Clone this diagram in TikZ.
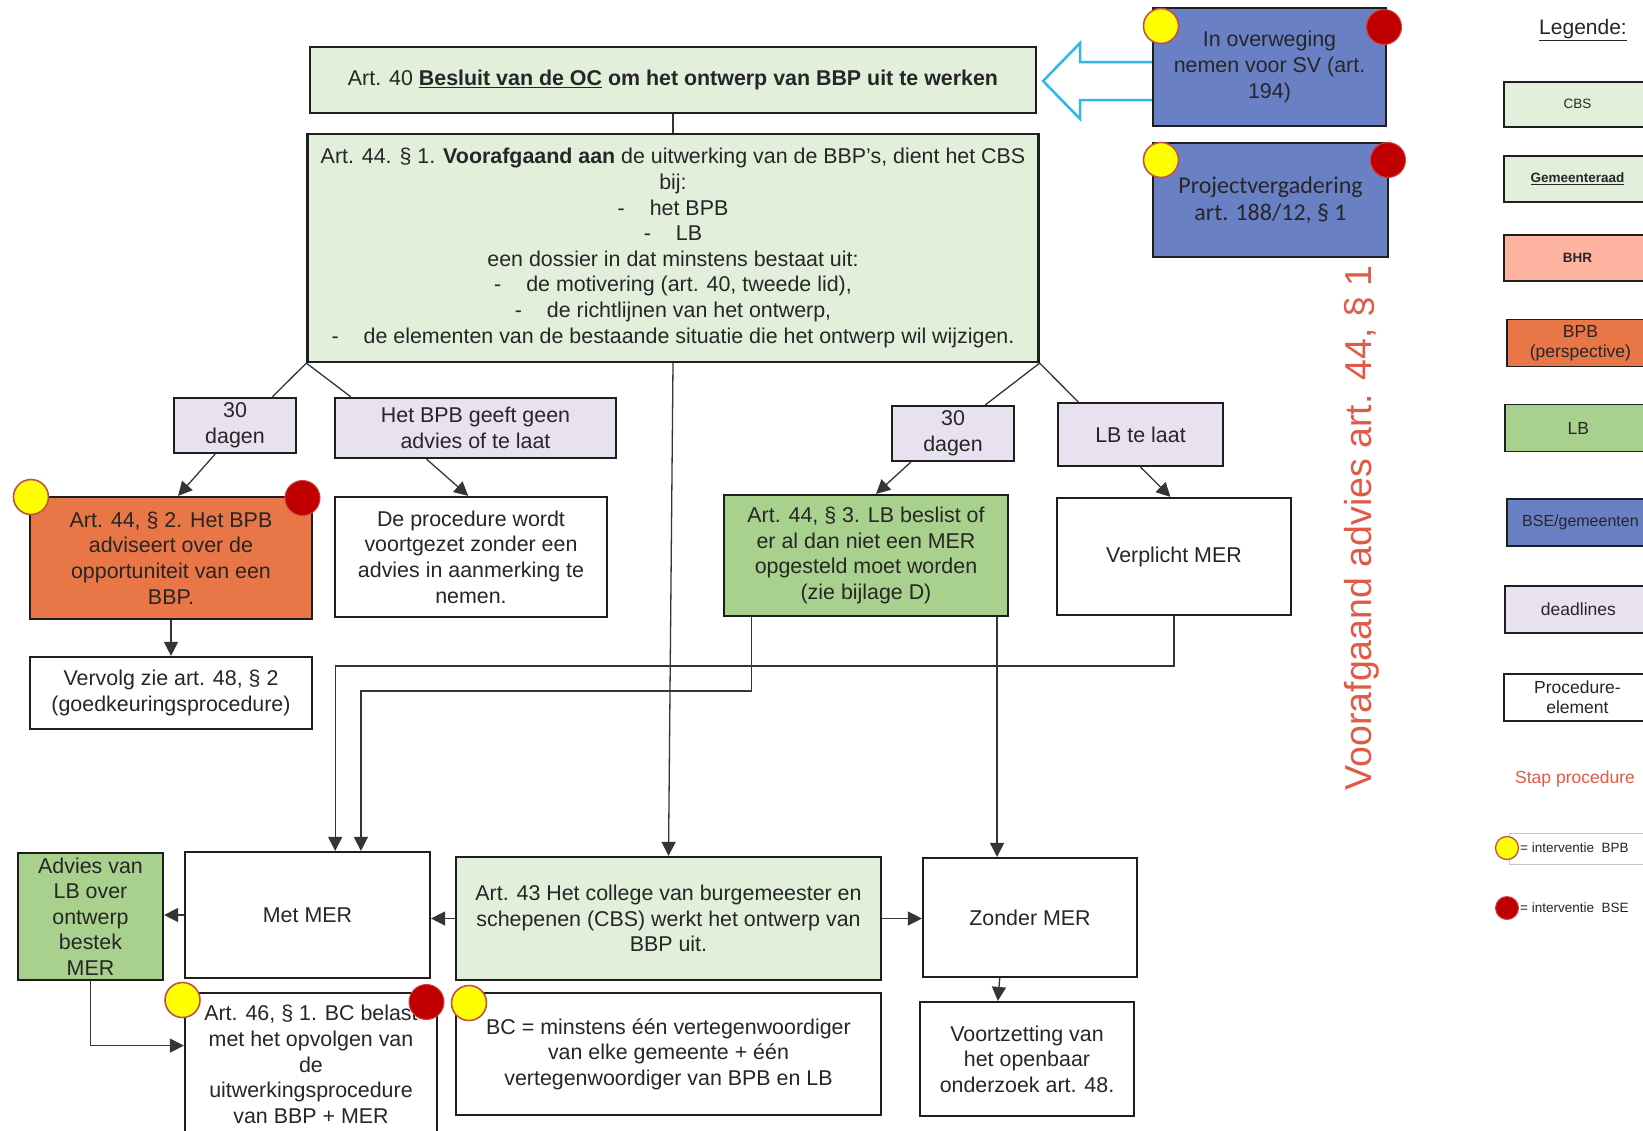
\documentclass[tikz,border=0pt]{standalone}
\usepackage{fontspec}
\setmainfont{Liberation Sans}
\newfontfamily\calib{Carlito}
\usetikzlibrary{arrows.meta,calc}

\definecolor{cbsgreen}{HTML}{E2EFDA}
\definecolor{lbgreen}{HTML}{A9D18E}
\definecolor{bpborange}{HTML}{E97647}
\definecolor{bhrpink}{HTML}{FFB3A1}
\definecolor{bseblue}{HTML}{6A80C4}
\definecolor{deadline}{HTML}{E8E1EF}
\definecolor{steptext}{HTML}{E05A47}
\definecolor{inktext}{HTML}{262626}
\definecolor{edge}{HTML}{1E1E1E}
\definecolor{hollowblue}{HTML}{2DB8EA}
\definecolor{dotyellow}{HTML}{FFFF00}
\definecolor{dotred}{HTML}{C00000}
\definecolor{dotrim}{HTML}{C0504D}

\begin{document}
\begin{tikzpicture}[x=1pt,y=-1pt,
  box/.style={draw=edge, line width=2.2pt, inner sep=0pt, align=center, text=inktext,
    font=\fontsize{21.4}{25.6}\selectfont},
  conn/.style={draw=edge!90, line width=1.3pt},
  arr/.style={conn, -{Triangle[length=14pt,width=14pt]}},
  bpbdot/.style={circle, draw=dotrim, line width=1.6pt, fill=dotyellow, minimum size=35pt, inner sep=0pt},
  bsedot/.style={circle, draw=dotred!75!white, line width=1pt, fill=dotred, minimum size=35pt, inner sep=0pt},
  legbox/.style={draw=edge, line width=1.8pt, inner sep=0pt, align=center, text=inktext,
    minimum width=147pt, anchor=west},
  fsmall/.style={font=\fontsize{13.5}{16}\selectfont},
  fleg/.style={font=\fontsize{17.5}{20}\selectfont},
]
\useasboundingbox (0,0) rectangle (1643,1130);
\clip (0,0) rectangle (1643,1130);
\fill[white] (0,0) rectangle (1643,1130);

% ---------- top of the procedure ----------
\node[box, fill=cbsgreen, minimum width=726pt, minimum height=66pt] (art40) at (673,80)
  {Art. 40 \textbf{\underline{Besluit van de OC}} \textbf{om het ontwerp van BBP uit te werken}};

% hollow block arrow pointing from the SV box to art. 40
\draw[hollowblue, line width=2.5pt, fill=white, line join=miter]
  ($(art40.east)+(6,1)$) -- ++(37,-38) -- ++(0,19) -- ++(83,0) -- ++(0,38)
  -- ++(-83,0) -- ++(0,19) -- cycle;

\node[box, fill=bseblue, minimum width=233pt, minimum height=118pt] (sv) at (1269.5,67)
  {In overweging\\nemen voor SV (art.\\194)};
\node[box, fill=bseblue, minimum width=235pt, minimum height=114pt,
  font=\calib\fontsize{24}{27.3}\selectfont] (proj) at (1270.5,200)
  {Projectvergadering\\art. 188/12, § 1};

\node[box, fill=cbsgreen, minimum width=731pt, minimum height=228pt] (art44a) at (673,248)
  {Art. 44. § 1. \textbf{Voorafgaand aan} de uitwerking van de BBP's, dient het CBS\\
   bij:\\
   -\hspace{25pt}het BPB\\
   -\hspace{25pt}LB\\
   een dossier in dat minstens bestaat uit:\\
   -\hspace{25pt}de motivering (art. 40, tweede lid),\\
   -\hspace{25pt}de richtlijnen van het ontwerp,\\
   -\hspace{25pt}de elementen van de bestaande situatie die het ontwerp wil wijzigen.};

% ---------- deadlines and advice branches ----------
\node[box, fill=deadline, minimum width=122pt, minimum height=55pt] (d30a) at (235,425.5) {30\\dagen};
\node[box, fill=deadline, minimum width=281pt, minimum height=60pt] (nobpb) at (475.5,428)
  {Het BPB geeft geen\\advies of te laat};
\node[box, fill=bpborange, minimum width=282pt, minimum height=122pt] (art44b) at (171,558)
  {Art. 44, § 2. Het BPB\\adviseert over de\\opportuniteit van een\\BBP.};
\node[box, fill=white, minimum width=272pt, minimum height=120pt] (proc) at (471,557)
  {De procedure wordt\\voortgezet zonder een\\advies in aanmerking te\\nemen.};
\node[box, fill=white, minimum width=282pt, minimum height=72pt] (vervolg) at (171,693)
  {Vervolg zie art. 48, § 2\\(goedkeuringsprocedure)};

\node[box, fill=deadline, minimum width=122pt, minimum height=55pt] (d30b) at (953,433.5) {30\\dagen};
\node[box, fill=deadline, minimum width=165pt, minimum height=63pt] (lblaat) at (1140.5,434.5) {LB te laat};
\node[box, fill=lbgreen, minimum width=284pt, minimum height=121pt] (art44c) at (866,555.5)
  {Art. 44, § 3. LB beslist of\\er al dan niet een MER\\opgesteld moet worden\\(zie bijlage D)};
\node[box, fill=white, minimum width=234pt, minimum height=117pt] (verpl) at (1174,556.5) {Verplicht MER};

% ---------- bottom row ----------
\node[box, fill=lbgreen, minimum width=145pt, minimum height=127pt] (advies) at (90.5,916.5)
  {Advies van\\LB over\\ontwerp\\bestek\\MER};
\node[box, fill=white, minimum width=245pt, minimum height=126pt] (metmer) at (307.5,915) {Met MER};
\node[box, fill=cbsgreen, minimum width=425pt, minimum height=123pt] (art43) at (668.5,918.5)
  {Art. 43 Het college van burgemeester en\\schepenen (CBS) werkt het ontwerp van\\BBP uit.};
\node[box, fill=white, minimum width=214pt, minimum height=119pt] (zonder) at (1030,917.5) {Zonder MER};
\node[box, fill=white, minimum width=252pt, minimum height=143pt] (art46) at (311,1064.5)
  {Art. 46, § 1. BC belast\\met het opvolgen van\\de\\uitwerkingsprocedure\\van BBP + MER};
\node[box, fill=white, minimum width=425pt, minimum height=122pt] (bc) at (668.5,1054)
  {BC = minstens één vertegenwoordiger\\van elke gemeente + één\\vertegenwoordiger van BPB en LB};
\node[box, fill=white, minimum width=214pt, minimum height=114pt] (voort) at (1027,1059)
  {Voortzetting van\\het openbaar\\onderzoek art. 48.};

% ---------- connectors ----------
\draw[conn] (art40.south) -- (art44a.north);
\draw[conn] (art44a.south west) -- ($(d30a.north west)!0.8!(d30a.north east)$);
\draw[conn] (art44a.south west) -- ($(nobpb.north west)!0.06!(nobpb.north east)$);
\draw[conn] (art44a.south east) -- ($(d30b.north west)!0.76!(d30b.north east)$);
\draw[conn] (art44a.south east) -- ($(lblaat.north west)!0.127!(lblaat.north east)$);

\draw[arr] ($(d30a.south west)!0.34!(d30a.south east)$) -- ($(art44b.north west)!0.525!(art44b.north east)$);
\draw[arr] ($(nobpb.south west)!0.327!(nobpb.south east)$) -- ($(proc.north west)!0.49!(proc.north east)$);
\draw[arr] (art44b.south) -- (art44b.south |- vervolg.north);
\draw[arr] ($(d30b.south west)!0.16!(d30b.south east)$) -- ($(art44c.north west)!0.535!(art44c.north east)$);
\draw[arr] (lblaat.south) -- ($(verpl.north west)!0.485!(verpl.north east)$);

\coordinate (mA) at ($(metmer.north west)!0.612!(metmer.north east)$);
\coordinate (mB) at ($(metmer.north west)!0.716!(metmer.north east)$);
\coordinate (cL) at ($(art44c.south west)!0.1!(art44c.south east)$);
\coordinate (cR) at ($(art44c.south west)!0.958!(art44c.south east)$);
\draw[arr] (verpl.south) -- ++(0,50) -| (mA);
\draw[arr] (cL) -- ++(0,74) -| (mB);
\draw[arr] (cR) -- (cR |- zonder.north);
\draw[arr] (art44a.south) -- (art43.north);

\draw[arr] (art43.west) -- (art43.west -| metmer.east);
\draw[arr] (metmer.west) -- (metmer.west -| advies.east);
\draw[arr] (art43.east) -- (art43.east -| zonder.west);
\draw[arr] ($(zonder.south west)!0.36!(zonder.south east)$) -- ($(voort.north west)!0.365!(voort.north east)$);
\draw[arr] (advies.south) |- ($(art46.north west)+(0,53.7)$);

% ---------- intervention markers ----------
\node[bpbdot] (ysv) at (1161,26) {};
\node[bsedot] (rsv) at (1384,27) {};
\node[bpbdot] (yproj) at (1161,160) {};
\node[bsedot] (rproj) at (1388,160) {};
\node[bpbdot] (y44b) at (31,497) {};
\node[bsedot] (r44b) at (302.5,498) {};
\node[bpbdot] (y46) at (182.5,1000) {};
\node[bsedot] (r46) at (426.5,1002) {};
\node[bpbdot] (ybc) at (469,1003) {};

% ---------- step label ----------
\node[text=steptext, font=\fontsize{37.5}{40}\selectfont, rotate=90] (step) at (1362,528)
  {Voorafgaand advies art. 44, § 1};

% ---------- legend ----------
\node[font=\fontsize{21}{25}\selectfont, text=inktext] (legtitle) at (1583,30) {\underline{Legende:}};
\node[legbox, fill=cbsgreen, minimum height=45pt, fsmall] (lgcbs) at (1503,104.3) {CBS};
\node[legbox, fill=cbsgreen, minimum height=46pt, fsmall] (lggr) at (1503,179) {\textbf{\underline{Gemeenteraad}}};
\node[legbox, fill=bhrpink, minimum height=46pt, fsmall] (lgbhr) at (1503,257.8) {\textbf{BHR}};
\node[legbox, fill=bpborange, minimum height=47pt, fleg] (lgbpb) at (1506,343) {BPB\\(perspective)};
\node[legbox, fill=lbgreen, minimum height=47pt, fleg] (lglb) at (1504,428) {LB};
\node[legbox, fill=bseblue, minimum height=47pt, font=\fontsize{16}{19}\selectfont] (lgbse) at (1506,522.4) {BSE/gemeenten};
\node[legbox, fill=deadline, minimum height=47pt, fleg] (lgdl) at (1504,609.5) {deadlines};
\node[legbox, fill=white, minimum height=47pt, fleg] (lgpe) at (1503,697.5) {Procedure-\\element};
\node[text=steptext, fleg] (lgstep) at (1575,779) {Stap procedure};

\draw[black!22, line width=0.8pt] (1509,833) rectangle (1660,864);
\node[bpbdot, minimum size=23pt, line width=1.3pt] (lgy) at (1507,848) {};
\node[anchor=west, inner sep=0pt, fsmall, text=inktext] (lgyt) at (1520,848) {= interventie\ \ BPB};
\node[bsedot, minimum size=23pt] (lgr) at (1507,908) {};
\node[anchor=west, inner sep=0pt, fsmall, text=inktext] (lgrt) at (1520,908) {= interventie\ \ BSE};
\end{tikzpicture}
\end{document}
